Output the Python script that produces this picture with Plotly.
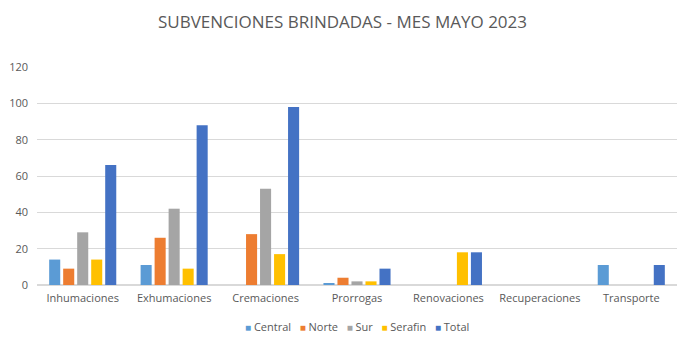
import plotly.graph_objects as go

categories = ["Inhumaciones", "Exhumaciones", "Cremaciones", "Prorrogas",
              "Renovaciones", "Recuperaciones", "Transporte"]
central = [14, 11, 0, 1, 0, 0, 11]
norte = [9, 26, 28, 4, 0, 0, 0]
sur = [29, 42, 53, 2, 0, 0, 0]
serafin = [14, 9, 17, 2, 18, 0, 0]
total = [66, 88, 98, 9, 18, 0, 11]

series = [
    ("Central", central, "#5B9BD5"),
    ("Norte", norte, "#ED7D31"),
    ("Sur", sur, "#A5A5A5"),
    ("Serafin", serafin, "#FFC000"),
    ("Total", total, "#4472C4"),
]

fig = go.Figure()
for name, vals, color in series:
    fig.add_trace(go.Bar(x=categories, y=vals, name=name, marker_color=color,
                         marker_line_width=0, showlegend=False))

# compact legend row below the plot: coloured square + series name
legend_text = "&nbsp;&nbsp;&nbsp;".join(
    f"<span style='color:{color};font-size:10px'>■</span> {name}"
    for name, _, color in series
)
fig.add_annotation(text=legend_text, xref="paper", yref="paper",
                   x=0.5, y=-0.19, xanchor="center", yanchor="middle",
                   showarrow=False, font=dict(size=11, color="#595959"))

font_family = "Open Sans, Liberation Sans, Arial, sans-serif"
fig.update_layout(
    width=685, height=346,
    paper_bgcolor="white", plot_bgcolor="white",
    margin=dict(l=37, r=8, t=67, b=61, autoexpand=False),
    title=dict(text="SUBVENCIONES BRINDADAS - MES MAYO 2023",
               x=0.5, xanchor="center", y=0.935, yanchor="middle",
               font=dict(family=font_family, size=17, color="#595959")),
    barmode="group", bargap=0.234, bargroupgap=0.21,
    font=dict(family=font_family, size=11, color="#595959"),
    xaxis=dict(showgrid=False, showline=True, linecolor="#D9D9D9",
               ticks="", tickfont=dict(size=11, color="#595959"),
               ticklabelstandoff=3),
    yaxis=dict(range=[0, 120], dtick=20, showgrid=True, gridcolor="#D9D9D9",
               zeroline=True, zerolinecolor="#D9D9D9", ticks="",
               tickfont=dict(size=11, color="#595959"), ticklabelstandoff=8),
)

fig.write_html("out.html")
